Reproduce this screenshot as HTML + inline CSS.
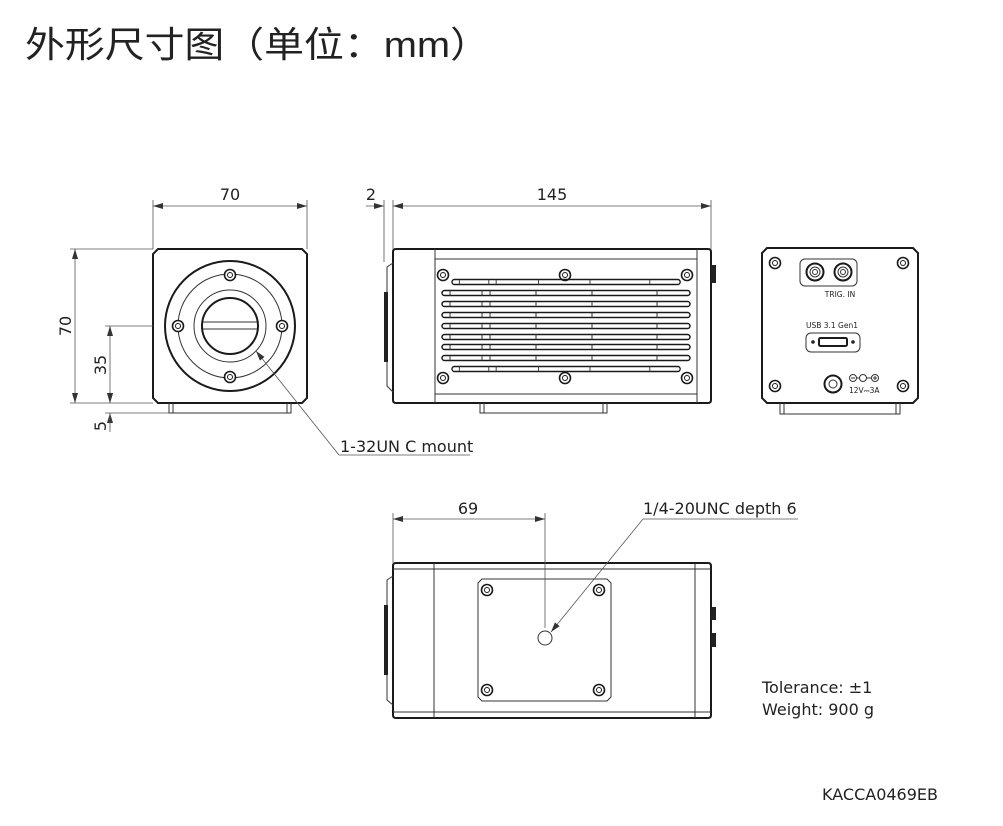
<!DOCTYPE html>
<html><head><meta charset="utf-8"><style>
html,body{margin:0;padding:0;background:#fff}
svg{display:block}
text{font-family:"DejaVu Sans","Liberation Sans",sans-serif;fill:#222}
.o{fill:none;stroke:#1a1a1a;stroke-width:2}
.t{fill:none;stroke:#333;stroke-width:1}
.d{fill:none;stroke:#555;stroke-width:0.8}
</style></head><body>
<svg width="1003" height="826" viewBox="0 0 1003 826" xmlns="http://www.w3.org/2000/svg">
<defs>
<marker id="a" viewBox="0 0 10 6" refX="10" refY="3" markerWidth="10" markerHeight="6" orient="auto-start-reverse" markerUnits="userSpaceOnUse"><path d="M0,0 L10,3 L0,6 z" fill="#333"/></marker>
<g id="s"><circle r="5.5" fill="#fff" stroke="#1a1a1a" stroke-width="1.6"/><circle r="2.5" fill="none" stroke="#1a1a1a" stroke-width="1"/></g>
<g id="row"><rect x="0" y="-2.5" width="248" height="5" rx="2.5" fill="none" stroke="#1a1a1a" stroke-width="1.5"/><path d="M8,-2.5v5M40,-2.5v5M48,-2.5v5M94,-2.5v5M150,-2.5v5M215,-2.5v5" class="t"/></g>
</defs>

<text x="25" y="57" font-size="36" textLength="465" lengthAdjust="spacingAndGlyphs" style='font-family:"Liberation Sans","Noto Sans CJK SC",sans-serif'>外形尺寸图（单位：mm）</text>

<!-- FRONT VIEW -->
<path class="o" d="M158,249 H302 L307,254 V398 L302,403 H158 L153,398 V254 Z"/>
<path class="t" d="M169,403 V413 H291 V403 M173,403 V413 M287,403 V413"/>
<circle cx="230" cy="326" r="65" class="o" stroke-width="2.4"/>
<circle cx="230" cy="326" r="52" class="t" stroke-width="1.3"/>
<circle cx="230" cy="326" r="36" class="t" stroke-width="1.4"/>
<circle cx="230" cy="326" r="28" class="o"/>
<path class="t" d="M203,322 H257 M203,329 H257" stroke-width="1.3"/>
<use href="#s" x="230" y="275"/><use href="#s" x="178" y="326"/><use href="#s" x="282" y="326"/><use href="#s" x="230" y="377"/>
<!-- front dims -->
<path class="d" d="M153,200 V249 M307,200 V249"/>
<line x1="153" y1="206" x2="307" y2="206" class="d" marker-start="url(#a)" marker-end="url(#a)"/>
<text x="230" y="200" font-size="16" text-anchor="middle">70</text>
<path class="d" d="M70,249 H153 M70,403 H153 M105,326 H153 M105,413 H169"/>
<line x1="75" y1="249" x2="75" y2="403" class="d" marker-start="url(#a)" marker-end="url(#a)"/>
<text transform="translate(71,326) rotate(-90)" font-size="16" text-anchor="middle">70</text>
<line x1="110" y1="326" x2="110" y2="403" class="d" marker-start="url(#a)" marker-end="url(#a)"/>
<text transform="translate(106,365) rotate(-90)" font-size="16" text-anchor="middle">35</text>
<line x1="110" y1="392" x2="110" y2="403" class="d" marker-end="url(#a)"/>
<line x1="110" y1="424" x2="110" y2="413" class="d" marker-end="url(#a)"/>
<line x1="110" y1="413" x2="110" y2="432" class="d"/>
<text transform="translate(106,426) rotate(-90)" font-size="16" text-anchor="middle">5</text>
<!-- leader -->
<line x1="339" y1="455" x2="256" y2="351" class="d" marker-end="url(#a)"/>
<line x1="339" y1="455" x2="470" y2="455" class="d"/>
<text x="340" y="452" font-size="16">1-32UN C mount</text>

<!-- SIDE VIEW -->
<path class="o" d="M396,249 H708 Q711,249 711,252 V400 Q711,403 708,403 H396 Q393,403 393,400 V252 Q393,249 396,249 Z"/>
<path class="t" d="M435,249 V403 M697,249 V403 M435,259 H697 M435,394 H697"/>
<path class="t" d="M393,263 L387,267 V386 L393,392" stroke-width="1.5"/>
<path d="M384,292 H388 V362 H384 Z" fill="#222"/>
<path d="M711,265 H716 V283 H711 Z" fill="#222"/>
<path class="t" d="M480,403 V413 H607 V403 M484,403 V413 M603,403 V413"/>
<use href="#s" x="443" y="275"/><use href="#s" x="565" y="275"/><use href="#s" x="687" y="275"/>
<use href="#s" x="443" y="378"/><use href="#s" x="565" y="378"/><use href="#s" x="687" y="378"/>
<g transform="translate(452,282) scale(0.92,1)"><use href="#row"/></g>
<use href="#row" x="442" y="293"/><use href="#row" x="442" y="304"/><use href="#row" x="442" y="315"/>
<use href="#row" x="442" y="326"/><use href="#row" x="442" y="337"/><use href="#row" x="442" y="347"/>
<use href="#row" x="442" y="358"/>
<g transform="translate(452,369) scale(0.92,1)"><use href="#row"/></g>
<!-- side dims -->
<path class="d" d="M384,200 V262 M393,200 V249 M711,200 V249"/>
<line x1="393" y1="206" x2="711" y2="206" class="d" marker-start="url(#a)" marker-end="url(#a)"/>
<line x1="366" y1="206" x2="384" y2="206" class="d" marker-end="url(#a)"/>
<text x="552" y="200" font-size="16" text-anchor="middle">145</text>
<text x="371" y="200" font-size="16" text-anchor="middle">2</text>

<!-- REAR VIEW -->
<path class="o" d="M767,248 H913 L918,253 V398 L913,403 H767 L762,398 V253 Z"/>
<path class="t" d="M780,403 V414 H900 V403 M784,403 V414 M896,403 V414"/>
<use href="#s" x="775" y="263"/><use href="#s" x="903" y="263"/><use href="#s" x="775" y="386"/><use href="#s" x="903" y="386"/>
<rect x="800" y="259" width="57" height="27" rx="5" class="t" stroke-width="1.2"/>
<circle cx="815" cy="272" r="8.5" class="o" stroke-width="1.6"/><circle cx="815" cy="272" r="5" class="t"/><circle cx="815" cy="272" r="2.5" class="t"/>
<circle cx="843" cy="272" r="8.5" class="o" stroke-width="1.6"/><circle cx="843" cy="272" r="5" class="t"/><circle cx="843" cy="272" r="2.5" class="t"/>
<text x="840" y="297" font-size="7.5" text-anchor="middle">TRIG. IN</text>
<text x="832" y="328" font-size="7.5" text-anchor="middle">USB 3.1 Gen1</text>
<rect x="806" y="333" width="54" height="19" rx="5" class="t" stroke-width="1.2"/>
<rect x="819" y="338" width="28" height="8" rx="1.5" class="o" stroke-width="1.6"/>
<circle cx="813" cy="342" r="1.8" fill="#222"/><circle cx="853" cy="342" r="1.8" fill="#222"/>
<circle cx="833" cy="384" r="8.5" class="o" stroke-width="1.6"/><circle cx="833" cy="384" r="4" class="t"/>
<circle cx="853" cy="378" r="3.5" class="t"/><circle cx="863" cy="378" r="3.5" class="t"/><circle cx="875" cy="378" r="3.5" class="t"/>
<path class="t" d="M851,378h4M856.5,378h3M866.5,378h5M873,378h4M875,376v4"/>
<text x="849" y="393" font-size="7.5">12V⎓3A</text>

<!-- BOTTOM VIEW -->
<path class="o" d="M396,563 H708 Q711,563 711,566 V715 Q711,718 708,718 H396 Q393,718 393,715 V566 Q393,563 396,563 Z"/>
<path class="t" d="M434,563 V718 M695,563 V718 M393,569 H711 M393,712 H711"/>
<path class="t" d="M393,576 L387,580 V700 L393,705" stroke-width="1.5"/>
<path d="M384,605 H388 V675 H384 Z" fill="#222"/>
<path d="M711,607 H716 V620 H711 Z M711,633 H716 V647 H711 Z" fill="#222"/>
<path class="t" d="M482,579 H607 L611,583 V697 L607,701 H482 L478,697 V583 Z" stroke-width="1.1"/>
<use href="#s" x="487" y="590"/><use href="#s" x="599" y="590"/><use href="#s" x="487" y="690"/><use href="#s" x="599" y="690"/>
<circle cx="545" cy="638" r="7" class="t" stroke-width="1.1"/>
<path class="d" d="M393,513 V563 M545,513 V628"/>
<line x1="393" y1="519" x2="545" y2="519" class="d" marker-start="url(#a)" marker-end="url(#a)"/>
<text x="468" y="514" font-size="16" text-anchor="middle">69</text>
<line x1="643" y1="519" x2="551" y2="632" class="d" marker-end="url(#a)"/>
<line x1="643" y1="519" x2="798" y2="519" class="d"/>
<text x="643" y="514" font-size="16">1/4-20UNC depth 6</text>

<text x="762" y="693" font-size="16">Tolerance: ±1</text>
<text x="762" y="715" font-size="16">Weight: 900 g</text>
<text x="938" y="800" font-size="16" text-anchor="end">KACCA0469EB</text>
</svg>
</body></html>
